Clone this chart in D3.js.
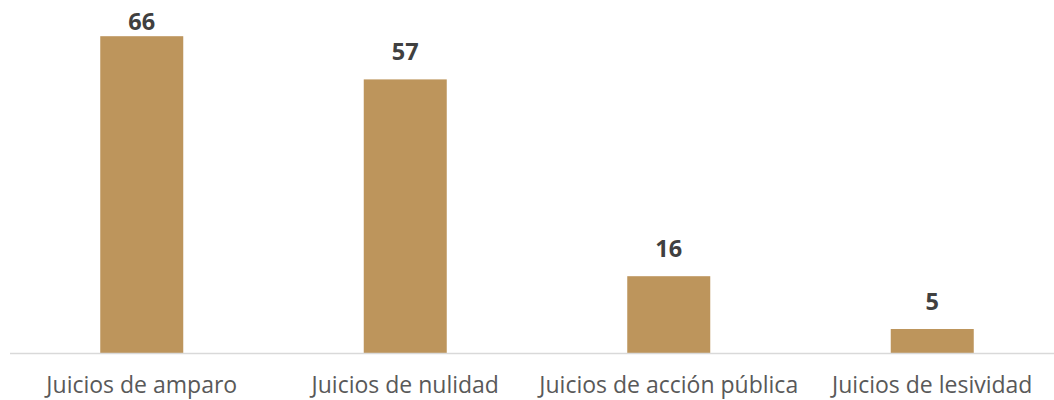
<!DOCTYPE html>
<html>
<head>
<meta charset="utf-8">
<script src="https://cdn.jsdelivr.net/npm/d3@7"></script>
<style>
  body { margin: 0; background: #fff; }
  svg { display: block; }
</style>
</head>
<body>
<svg id="chart" width="1054" height="400"></svg>
<script>
// data
let categories = ['Juicios de amparo', 'Juicios de nulidad', 'Juicios de acción pública', 'Juicios de lesividad']
let values = [66, 57, 16, 5]

let svg = d3.select('#chart')
let baseY = 353

let xScale = d3.scaleBand()
    .domain(categories)
    .range([10, 1064])
    .paddingInner(0.685)
    .paddingOuter(0.3425)

let yScale = d3.scaleLinear()
    .domain([0, 66])
    .range([baseY, 36.2])

let mydata = categories.map((c, i) => ({ kind: c, v: values[i] }))

// bars
svg.append('g')
  .selectAll('rect')
  .data(mydata)
  .enter()
    .append('rect')
    .attr('x', d => xScale(d.kind))
    .attr('y', d => yScale(d.v))
    .attr('width', xScale.bandwidth())
    .attr('height', d => baseY - yScale(d.v))
    .style('fill', '#BD955C')

// baseline
svg.append('line')
   .attr('x1', 10).attr('x2', 1054)
   .attr('y1', baseY + 0.5).attr('y2', baseY + 0.5)
   .style('stroke', '#D9D9D9')
   .style('stroke-width', 1.5)

// value labels
svg.append('g')
  .selectAll('text')
  .data(mydata)
  .enter()
    .append('text')
    .attr('x', d => xScale(d.kind) + xScale.bandwidth() / 2)
    .attr('y', d => Math.max(yScale(d.v) - 19.5, 30))
    .attr('text-anchor', 'middle')
    .style('font-family', '"Open Sans", sans-serif')
    .style('font-weight', 'bold')
    .style('font-size', '23.5px')
    .style('fill', '#404040')
    .text(d => d.v)

// category labels
svg.append('g')
  .selectAll('text')
  .data(categories)
  .enter()
    .append('text')
    .attr('x', d => xScale(d) + xScale.bandwidth() / 2)
    .attr('y', 393)
    .attr('text-anchor', 'middle')
    .style('font-family', '"Open Sans", sans-serif')
    .style('font-size', '23px')
    .style('fill', '#595959')
    .text(d => d)
</script>
</body>
</html>
